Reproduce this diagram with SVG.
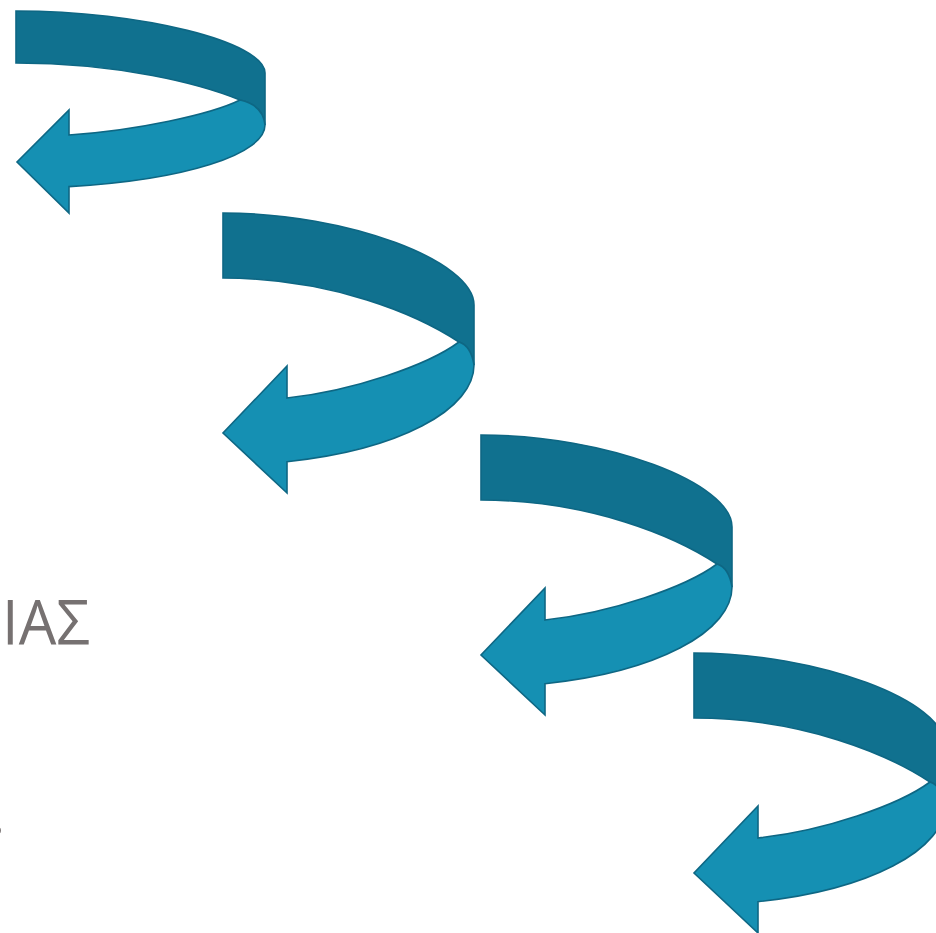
<svg xmlns="http://www.w3.org/2000/svg" xmlns:xlink="http://www.w3.org/1999/xlink" width="936" height="933" viewBox="0 0 936 933">
<style>
.dark{fill:#10718F;stroke:#0E6784;stroke-width:1.6;stroke-linejoin:miter}
.light{fill:#1590B3;stroke:#0E6784;stroke-width:1.6;stroke-linejoin:miter}
.txt{font-family:"Open Sans","Liberation Sans",sans-serif;font-size:63px;fill:#767171}
</style>
<defs>
<g id="uturnB">
<path class="dark" d="M0,0 C125.5,0 251,48 251,92 L251,152 Q248,133 236,129 C195,102 110,65 0,65 Z"/>
<path class="light" d="M236,129 Q248,133 251,152 A251,100 0 0 1 64,248.7 L64,280 L0,220 L64,153 L64,185 C130,178 205,152 236,129 Z"/>
</g>
</defs>
<rect width="936" height="933" fill="#FFFFFF"/>
<g id="arrow1" transform="translate(16,11)">
<path class="dark" d="M0,0 C124.5,0 249,31 249,62 L249,114 Q247,94 224,89 C185,73 104,52 0,52 Z"/>
<path class="light" d="M224,89 Q247,94 249,114 A249,63 0 0 1 53,175.6 L53,202 L1,151 L53,99 L53,124 C120,119.6 195,103.4 224,89 Z"/>
</g>
<g id="arrow2" transform="translate(223,213)">
<use xlink:href="#uturnB" href="#uturnB"/>
</g>
<g id="arrow3" transform="translate(481,435)">
<use xlink:href="#uturnB" href="#uturnB"/>
</g>
<g id="arrow4" transform="translate(694,653)">
<use xlink:href="#uturnB" href="#uturnB"/>
</g>
<g id="labels">
<text class="txt" x="2" y="645" textLength="88" lengthAdjust="spacingAndGlyphs">ΙΑΣ</text>
<text class="txt" x="-11" y="834">.</text>
</g>
</svg>
